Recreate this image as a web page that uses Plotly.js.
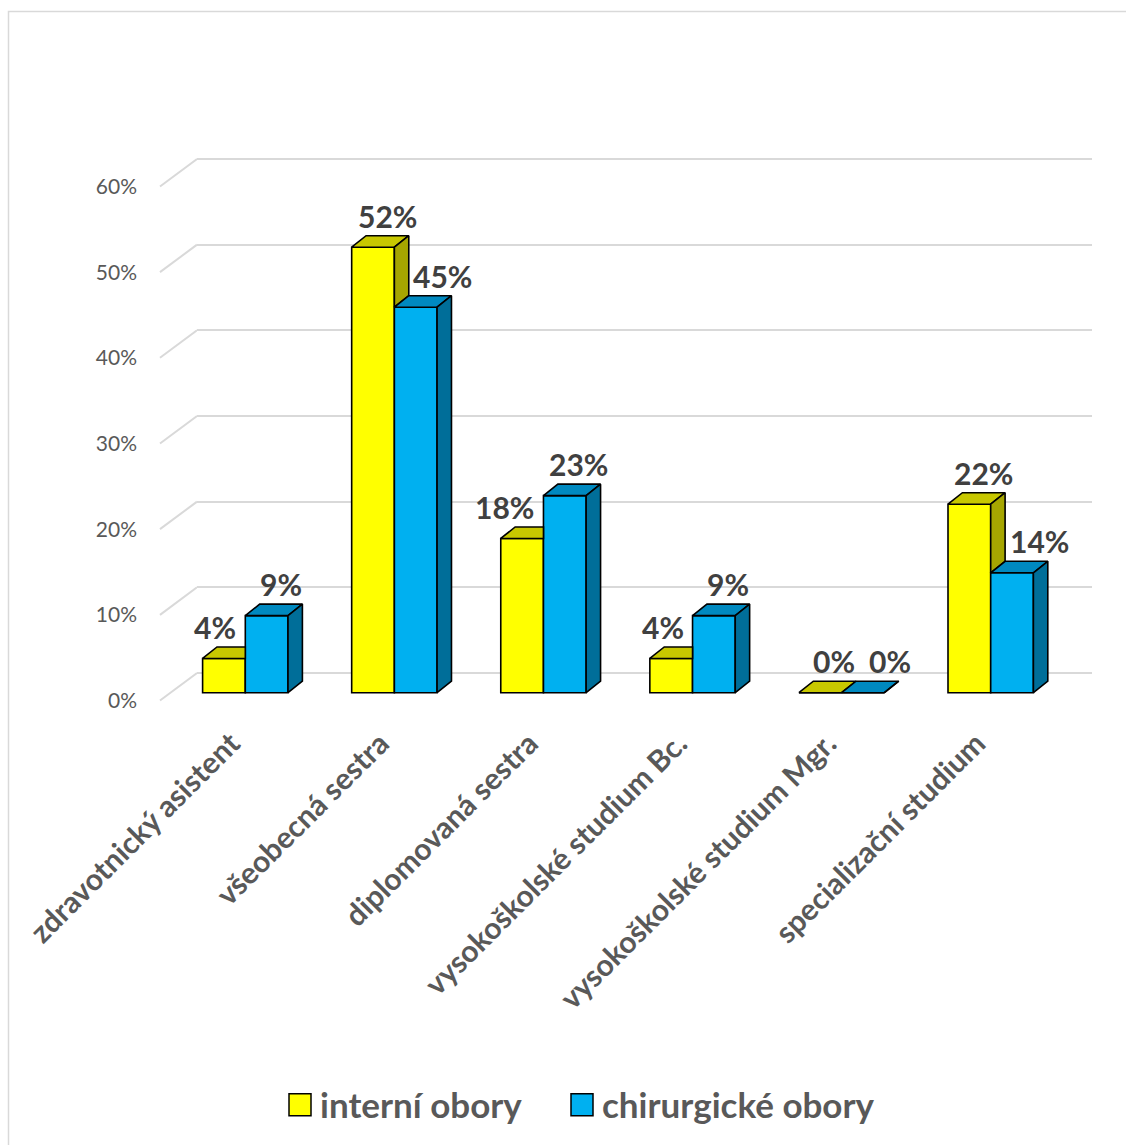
<!DOCTYPE html>
<html>
<head>
<meta charset="utf-8">
<script src="https://cdn.plot.ly/plotly-3.0.1.min.js"></script>
<style>html,body{margin:0;padding:0;background:#fff;}</style>
</head>
<body>
<div id="chart" style="width:1126px;height:1145px;"></div>
<script>
// ---------- data ----------
const categories = ['zdravotnický asistent', 'všeobecná sestra', 'diplomovaná sestra',
  'vysokoškolské studium Bc.', 'vysokoškolské studium Mgr.', 'specializační studium'];
const interni = [4, 52, 18, 4, 0, 22];
const chirurgicke = [9, 45, 23, 9, 0, 14];
const seriesNames = ['interní obory', 'chirurgické obory'];
const yTickVals = [0, 10, 20, 30, 40, 50, 60];
const yTickText = yTickVals.map(v => v + '%');

// ---------- geometry (pixels of the 1126x1145 canvas) ----------
const W = 1126, H = 1145;
const fx = p => p / W;
const fy = p => 1 - p / H;
const CAT_PX = 149.08, CAT0_PX = 245.3, PCT_PX = 8.567;
const PLOT_L = 197, PLOT_R = 1092, PLOT_T = 100, PLOT_B = 715;
const BAR_BASE_PX = 692.7, GRID_BASE_PX = 673, FRONT_BASE_PX = 700.5;
const WALL_L = 150, WALL_DEPTH_PX = 37;
const BW = 42.7 / CAT_PX;      // bar width (category units)
const DX = 14.4 / CAT_PX;      // depth offset x
const DY = 11.5 / PCT_PX;      // depth offset y
const WALL_DY = (FRONT_BASE_PX - GRID_BASE_PX) / PCT_PX;
const CAT_LABEL_SHIFT = -14 / CAT_PX;

const FONT = 'Lato, "Open Sans", sans-serif';
const C_YEL = '#FFFF00', C_YEL_TOP = '#C8C800', C_YEL_SIDE = '#A6A600';
const C_BLU = '#00B0F0', C_BLU_TOP = '#0089C0', C_BLU_SIDE = '#006E99';
const EDGE = '#000000';

const idx = categories.map((_, i) => i);

// ---------- 3D faces built from the data ----------
function addPoly(X, Y, pts) {
  pts.forEach(p => { X.push(p[0]); Y.push(p[1]); });
  X.push(pts[0][0]); Y.push(pts[0][1]);
  X.push(null); Y.push(null);
}
const yTop = {x: [], y: []}, ySide = {x: [], y: []}, bTop = {x: [], y: []}, bSide = {x: [], y: []};
idx.forEach(i => {
  const v = interni[i], b = chirurgicke[i];
  const x0 = i - BW, x1 = i, x2 = i + BW;
  if (b > v) {
    addPoly(yTop.x, yTop.y, [[x0, v], [x0 + DX, v + DY], [x1, v + DY], [x1, v]]);
  } else {
    addPoly(yTop.x, yTop.y, [[x0, v], [x0 + DX, v + DY], [x1 + DX, v + DY], [x1, v]]);
  }
  if (v > b) {
    addPoly(ySide.x, ySide.y, [[x1, b], [x1 + DX, b + DY], [x1 + DX, v + DY], [x1, v]]);
  }
  addPoly(bTop.x, bTop.y, [[x1, b], [x1 + DX, b + DY], [x2 + DX, b + DY], [x2, b]]);
  addPoly(bSide.x, bSide.y, [[x2, 0], [x2 + DX, DY], [x2 + DX, b + DY], [x2, b]]);
});
function face(f, color) {
  return {type: 'scatter', mode: 'lines', fill: 'toself', fillcolor: color,
    x: f.x, y: f.y, line: {color: EDGE, width: 1.6}, hoverinfo: 'skip', showlegend: false,
    xaxis: 'x', yaxis: 'y'};
}

// wall diagonals
const wallX = [], wallY = [];
yTickVals.forEach(t => { wallX.push(-1, 0, null); wallY.push(t, t + WALL_DY, null); });

const traces = [
  {type: 'scatter', x: [null], y: [null], xaxis: 'x', yaxis: 'y2', showlegend: false, hoverinfo: 'skip', mode: 'lines'},
  {type: 'scatter', mode: 'lines', x: wallX, y: wallY, xaxis: 'x2', yaxis: 'y3',
    line: {color: '#D9D9D9', width: 2}, hoverinfo: 'skip', showlegend: false},
  {type: 'bar', name: seriesNames[0], x: idx, y: interni, offset: -BW, width: BW,
    marker: {color: C_YEL, line: {color: EDGE, width: 1.6}}, showlegend: false, xaxis: 'x', yaxis: 'y'},
  {type: 'bar', name: seriesNames[1], x: idx, y: chirurgicke, offset: 0, width: BW,
    marker: {color: C_BLU, line: {color: EDGE, width: 1.6}}, showlegend: false, xaxis: 'x', yaxis: 'y'},
  face(yTop, C_YEL_TOP), face(ySide, C_YEL_SIDE), face(bTop, C_BLU_TOP), face(bSide, C_BLU_SIDE),
  {type: 'scatter', mode: 'markers', name: seriesNames[0], x: [null], y: [null], legend: 'legend',
    marker: {symbol: 'square', size: 16, color: C_YEL, line: {color: EDGE, width: 1.5}}},
  {type: 'scatter', mode: 'markers', name: seriesNames[1], x: [null], y: [null], legend: 'legend2',
    marker: {symbol: 'square', size: 16, color: C_BLU, line: {color: EDGE, width: 1.5}}}
];

// data labels
const LBL_FONT = {family: FONT, size: 30, color: '#404040', weight: 700};
const annotations = [];
idx.forEach(i => {
  const v = interni[i], b = chirurgicke[i];
  if (b > v) {
    annotations.push({xref: 'x', yref: 'y', x: i - 7 / CAT_PX, y: v + DY, text: v + '%',
      showarrow: false, yanchor: 'bottom', xanchor: 'right', yshift: 0, font: LBL_FONT});
  } else {
    annotations.push({xref: 'x', yref: 'y', x: i - BW / 2 + 14 / CAT_PX, y: v + DY, text: v + '%',
      showarrow: false, yanchor: 'bottom', xanchor: 'center', yshift: 0, font: LBL_FONT});
  }
  annotations.push({xref: 'x', yref: 'y', x: i + BW / 2 + (b > v ? 14 : 27) / CAT_PX, y: b + DY,
    text: b + '%', showarrow: false, yanchor: 'bottom', xanchor: 'center', yshift: 0, font: LBL_FONT});
});

const LEGEND_FONT = {family: FONT, size: 35, color: '#595959', weight: 700};
const layout = {
  width: W, height: H, autosize: false,
  margin: {l: 0, r: 0, t: 0, b: 0, pad: 0},
  paper_bgcolor: '#FFFFFF', plot_bgcolor: 'rgba(0,0,0,0)',
  font: {family: FONT, color: '#595959'},
  barmode: 'overlay',
  showlegend: true,
  xaxis: {domain: [fx(PLOT_L), fx(PLOT_R)],
    range: [(PLOT_L - CAT0_PX) / CAT_PX, (PLOT_R - CAT0_PX) / CAT_PX],
    tickmode: 'array', tickvals: idx.map(i => i + CAT_LABEL_SHIFT), ticktext: categories, tickangle: -45,
    tickfont: {family: FONT, size: 30, color: '#595959', weight: 700}, ticklabelstandoff: 4,
    showgrid: false, zeroline: false, showline: false, ticks: '', anchor: 'y', fixedrange: true},
  yaxis: {domain: [fy(PLOT_B), fy(PLOT_T)],
    range: [-(PLOT_B - BAR_BASE_PX) / PCT_PX, (BAR_BASE_PX - PLOT_T) / PCT_PX],
    showgrid: false, zeroline: false, showline: false, showticklabels: false, ticks: '', anchor: 'x', fixedrange: true},
  yaxis2: {overlaying: 'y', anchor: 'x', side: 'left',
    range: [-(PLOT_B - GRID_BASE_PX) / PCT_PX, (GRID_BASE_PX - PLOT_T) / PCT_PX],
    tickmode: 'array', tickvals: yTickVals, showgrid: true, gridcolor: '#D9D9D9', gridwidth: 2,
    zeroline: false, showline: false, showticklabels: false, ticks: '', fixedrange: true},
  xaxis2: {domain: [fx(WALL_L), fx(PLOT_L)], range: [-(PLOT_L - WALL_L) / WALL_DEPTH_PX, 0],
    anchor: 'y3', visible: false, fixedrange: true},
  yaxis3: {domain: [fy(760), fy(PLOT_T)], anchor: 'x2',
    range: [-(760 - FRONT_BASE_PX) / PCT_PX, (FRONT_BASE_PX - PLOT_T) / PCT_PX],
    tickmode: 'array', tickvals: yTickVals, ticktext: yTickText,
    tickfont: {family: FONT, size: 21, color: '#595959'},
    showgrid: false, zeroline: false, showline: false, ticks: '', ticklabelstandoff: 12, fixedrange: true},
  legend: {orientation: 'h', x: fx(280), xanchor: 'left', y: fy(1105), yanchor: 'middle',
    font: LEGEND_FONT, bgcolor: 'rgba(0,0,0,0)'},
  legend2: {orientation: 'h', x: fx(562), xanchor: 'left', y: fy(1105), yanchor: 'middle',
    font: LEGEND_FONT, bgcolor: 'rgba(0,0,0,0)'},
  annotations: annotations,
  shapes: [{type: 'rect', xref: 'paper', yref: 'paper', x0: fx(8.5), x1: 1.05, y0: -0.05, y1: fy(11.5),
    line: {color: '#D9D9D9', width: 1.5}, fillcolor: 'rgba(0,0,0,0)', layer: 'below'}]
};

Plotly.newPlot('chart', traces, layout, {displayModeBar: false, staticPlot: true}).then(gd => {
  // enlarge the legend swatches to the reference size
  gd.querySelectorAll('.legendpoints path.scatterpts').forEach(p => {
    p.setAttribute('d', 'M11,11H-11V-11H11Z');
  });
});
</script>
</body>
</html>
